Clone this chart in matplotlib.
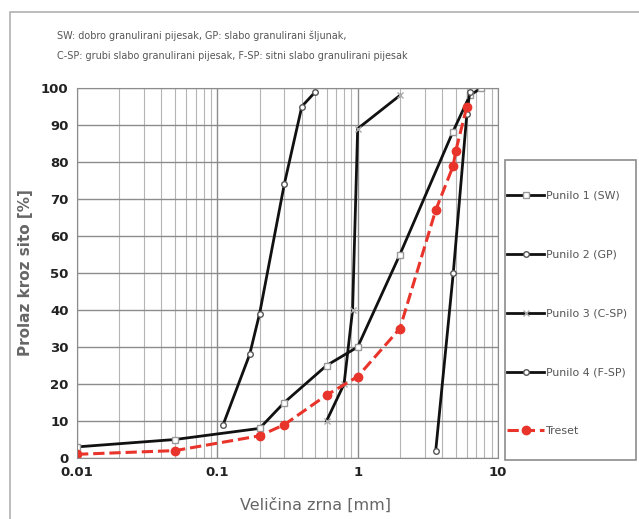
import matplotlib.pyplot as plt
from matplotlib.patches import Rectangle

# grain size [mm] and passing [%]
sw_x = [0.01, 0.05, 0.2, 0.3, 0.6, 1.0, 2.0, 4.75, 6.3, 7.6]
sw_y = [3, 5, 8, 15, 25, 30, 55, 88, 98, 100]

gp_x = [3.6, 4.8, 6.0, 6.3]
gp_y = [2, 50, 93, 99]

csp_x = [0.6, 0.8, 0.92, 1.0, 2.0]
csp_y = [10, 20, 40, 89, 98]

fsp_x = [0.11, 0.17, 0.2, 0.3, 0.4, 0.5]
fsp_y = [9, 28, 39, 74, 95, 99]

tr_x = [0.01, 0.05, 0.2, 0.3, 0.6, 1.0, 2.0, 3.6, 4.8, 5.0, 6.0]
tr_y = [1, 2, 6, 9, 17, 22, 35, 67, 79, 83, 95]

labels = ['Punilo 1 (SW)', 'Punilo 2 (GP)', 'Punilo 3 (C-SP)', 'Punilo 4 (F-SP)', 'Treset']

W, H = 639, 519
fig = plt.figure(figsize=(6.39, 5.19), dpi=100)
ax = fig.add_axes([77 / W, 1 - 458 / H, 421 / W, 370 / H])

# outer frame and legend frame
fig.patches.append(Rectangle((10 / W, -0.01), 1.0, 1 - 12 / H + 0.01, transform=fig.transFigure,
                             fill=False, edgecolor='#b0b0b0', lw=1.2))
fig.patches.append(Rectangle((505 / W, 1 - 460 / H), 131 / W, 300 / H, transform=fig.transFigure,
                             fill=False, edgecolor='#8c8c8c', lw=1.2))

ax.plot(sw_x, sw_y, color='#111111', lw=2, marker='s', ms=4, mfc='white', mec='#999999', label=labels[0])
ax.plot(gp_x, gp_y, color='#111111', lw=2, marker='o', ms=4, mfc='white', mec='#555555', label=labels[1])
ax.plot(csp_x, csp_y, color='#111111', lw=2, marker='x', ms=5, mec='#aaaaaa', label=labels[2])
ax.plot(fsp_x, fsp_y, color='#111111', lw=2, marker='o', ms=4, mfc='white', mec='#555555', label=labels[3])
ax.plot(tr_x, tr_y, color='#e8342a', lw=2.2, ls='--', marker='o', ms=6, mfc='#e8342a', mec='#e8342a',
        label=labels[4])

ax.set_xscale('log')
ax.set_xlim(0.01, 10)
ax.set_ylim(0, 100)
ax.set_yticks(range(0, 101, 10))
ax.set_xticks([0.01, 0.1, 1, 10])
ax.set_xticklabels(['0.01', '0.1', '1', '10'])
ax.grid(True, which='major', color='#8c8c8c', lw=1.0)
ax.grid(True, which='minor', axis='x', color='#b5b5b5', lw=0.8)
ax.tick_params(which='both', length=0, labelsize=9.5, colors='#222222', pad=6)
for t in ax.get_xticklabels() + ax.get_yticklabels():
    t.set_fontweight('bold')
for s in ax.spines.values():
    s.set_color('#8c8c8c')

ax.set_xlabel('Veličina zrna [mm]', fontsize=11.5, color='#666666')
ax.xaxis.set_label_coords((316 - 77) / 421, (458 - 505) / 370)
ax.xaxis.label.set_va('center')
ax.set_ylabel('Prolaz kroz sito [%]', fontsize=11, color='#666666', fontweight='bold', labelpad=6)

fig.text(57 / W, 1 - 36 / H, 'SW: dobro granulirani pijesak, GP: slabo granulirani šljunak,',
         fontsize=6.9, color='#555555', va='center')
fig.text(57 / W, 1 - 56 / H, 'C-SP: grubi slabo granulirani pijesak, F-SP: sitni slabo granulirani pijesak',
         fontsize=6.9, color='#555555', va='center')

leg = ax.legend(loc='upper left', bbox_to_anchor=(507 / W, 1 - 191 / H), bbox_transform=fig.transFigure,
                fontsize=7.9, frameon=False, labelspacing=4.45, handlelength=3.4, handletextpad=0.15,
                borderpad=0, borderaxespad=0)
for t in leg.get_texts():
    t.set_color('#555555')

fig.savefig('out.png', dpi=100)
